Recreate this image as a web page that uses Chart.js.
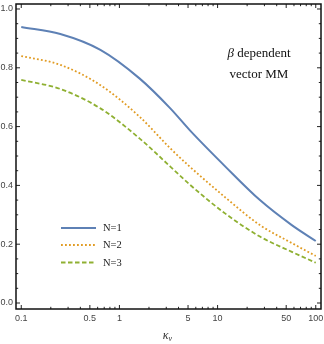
<!DOCTYPE html>
<html>
<head>
<meta charset="utf-8">
<script src="https://cdn.jsdelivr.net/npm/chart.js@4/dist/chart.umd.min.js"></script>
<style>
  html, body { margin: 0; padding: 0; background: #fff; }
</style>
</head>
<body>
<canvas id="chart" width="324" height="344"></canvas>
<script>
// Data
const kappa = [0.1, 0.25, 0.64, 1.6, 3.3, 5.2, 12, 27, 57, 100];
const seriesN1 = [0.939, 0.915, 0.861, 0.764, 0.662, 0.588, 0.464, 0.350, 0.265, 0.211];
const seriesN2 = [0.840, 0.810, 0.741, 0.634, 0.526, 0.464, 0.359, 0.265, 0.204, 0.160];
const seriesN3 = [0.759, 0.728, 0.662, 0.560, 0.464, 0.403, 0.304, 0.226, 0.174, 0.137];
const seriesNames = ['N=1', 'N=2', 'N=3'];

const xTicks = [0.1, 0.5, 1, 5, 10, 50, 100];
const xMinorTicks = [0.2, 0.3, 0.4, 0.6, 0.7, 0.8, 0.9, 2, 3, 4, 6, 7, 8, 9, 20, 30, 40, 60, 70, 80, 90];
const yTicks = [0, 0.2, 0.4, 0.6, 0.8, 1.0];
const yMinorTicks = [0.05, 0.1, 0.15, 0.25, 0.3, 0.35, 0.45, 0.5, 0.55, 0.65, 0.7, 0.75, 0.85, 0.9, 0.95];

const colors = ['#5E81B5', '#E19C24', '#8FB032'];
const dashes = [[], [1.8, 2.2], [4.5, 2.5]];
const widths = [2, 1.8, 1.8];

function toPoints(ys) {
  return ys.map((y, i) => ({ x: kappa[i], y: y }));
}

// frame, inward ticks, legend, texts
const framePlugin = {
  id: 'frame',
  afterDraw(chart) {
    const ctx = chart.ctx;
    const a = chart.chartArea;
    const xs = chart.scales.x;
    const ys = chart.scales.y;
    ctx.save();
    ctx.strokeStyle = '#222';
    ctx.lineWidth = 1;
    ctx.beginPath();
    xTicks.forEach(v => {
      const p = xs.getPixelForValue(v);
      ctx.moveTo(p, a.bottom); ctx.lineTo(p, a.bottom - 4);
      ctx.moveTo(p, a.top); ctx.lineTo(p, a.top + 4);
    });
    xMinorTicks.forEach(v => {
      const p = xs.getPixelForValue(v);
      ctx.moveTo(p, a.bottom); ctx.lineTo(p, a.bottom - 2.2);
      ctx.moveTo(p, a.top); ctx.lineTo(p, a.top + 2.2);
    });
    yTicks.forEach(v => {
      const p = ys.getPixelForValue(v);
      ctx.moveTo(a.left, p); ctx.lineTo(a.left + 4, p);
      ctx.moveTo(a.right, p); ctx.lineTo(a.right - 4, p);
    });
    yMinorTicks.forEach(v => {
      const p = ys.getPixelForValue(v);
      ctx.moveTo(a.left, p); ctx.lineTo(a.left + 2.2, p);
      ctx.moveTo(a.right, p); ctx.lineTo(a.right - 2.2, p);
    });
    ctx.stroke();

    ctx.lineWidth = 1.5;
    ctx.strokeStyle = '#111';
    ctx.strokeRect(a.left, a.top, a.right - a.left, a.bottom - a.top);

    // legend
    const rows = [228, 245, 262.5];
    ctx.font = '10.5px "Liberation Serif"';
    ctx.textBaseline = 'middle';
    ctx.textAlign = 'left';
    seriesNames.forEach((name, i) => {
      ctx.strokeStyle = colors[i];
      ctx.lineWidth = widths[i];
      ctx.setLineDash(dashes[i]);
      ctx.beginPath();
      ctx.moveTo(61, rows[i]);
      ctx.lineTo(96, rows[i]);
      ctx.stroke();
      ctx.setLineDash([]);
      ctx.fillStyle = '#222';
      ctx.fillText(name, 103, rows[i] + 0.5);
    });

    // annotation, centred
    ctx.textBaseline = 'alphabetic';
    ctx.fillStyle = '#111';
    ctx.font = 'italic 13px "Liberation Serif"';
    const bw = ctx.measureText('β').width;
    ctx.font = '13px "Liberation Serif"';
    const dw = ctx.measureText(' dependent').width;
    const x0 = 259 - (bw + dw) / 2;
    ctx.textAlign = 'left';
    ctx.font = 'italic 13px "Liberation Serif"';
    ctx.fillText('β', x0, 57);
    ctx.font = '13px "Liberation Serif"';
    ctx.fillText(' dependent', x0 + bw, 57);
    ctx.textAlign = 'center';
    ctx.fillText('vector MM', 259, 77.5);

    // x axis title
    ctx.fillStyle = '#333';
    ctx.font = 'italic 12px "Liberation Serif"';
    ctx.textAlign = 'right';
    ctx.fillText('κ', 168.5, 338.5);
    ctx.font = 'italic 8px "Liberation Serif"';
    ctx.textAlign = 'left';
    ctx.fillText('v', 168.5, 341);
    ctx.restore();
  }
};

const ctx = document.getElementById('chart').getContext('2d');
const chart = new Chart(ctx, {
  type: 'line',
  data: {
    datasets: [seriesN1, seriesN2, seriesN3].map((ys, i) => ({
      label: seriesNames[i],
      data: toPoints(ys),
      borderColor: colors[i],
      borderWidth: widths[i],
      borderDash: dashes[i],
      pointRadius: 0,
      fill: false,
      cubicInterpolationMode: 'monotone'
    }))
  },
  options: {
    responsive: false,
    animation: false,
    layout: { padding: { top: 4, right: 3, left: 0, bottom: 0 } },
    plugins: { legend: { display: false }, tooltip: { enabled: false } },
    scales: {
      x: {
        type: 'logarithmic',
        min: 0.0884,
        max: 113.1,
        grid: { display: false, drawTicks: false },
        border: { display: false },
        ticks: {
          color: '#444',
          font: { family: 'Liberation Sans', size: 9 },
          padding: 4,
          maxRotation: 0,
          autoSkip: false,
          callback: v => String(v)
        },
        afterBuildTicks: s => { s.ticks = xTicks.map(v => ({ value: v })); },
        afterFit: s => { s.height = 35; s.paddingLeft = 0; s.paddingRight = 0; }
      },
      y: {
        min: -0.0204,
        max: 1.017,
        grid: { display: false, drawTicks: false },
        border: { display: false },
        ticks: {
          color: '#444',
          font: { family: 'Liberation Sans', size: 9 },
          padding: 3,
          callback: v => Number(v).toFixed(1)
        },
        afterBuildTicks: s => { s.ticks = yTicks.map(v => ({ value: v })); },
        afterFit: s => { s.width = 16; s.paddingTop = 0; s.paddingBottom = 0; }
      }
    }
  },
  plugins: [framePlugin]
});
</script>
</body>
</html>
